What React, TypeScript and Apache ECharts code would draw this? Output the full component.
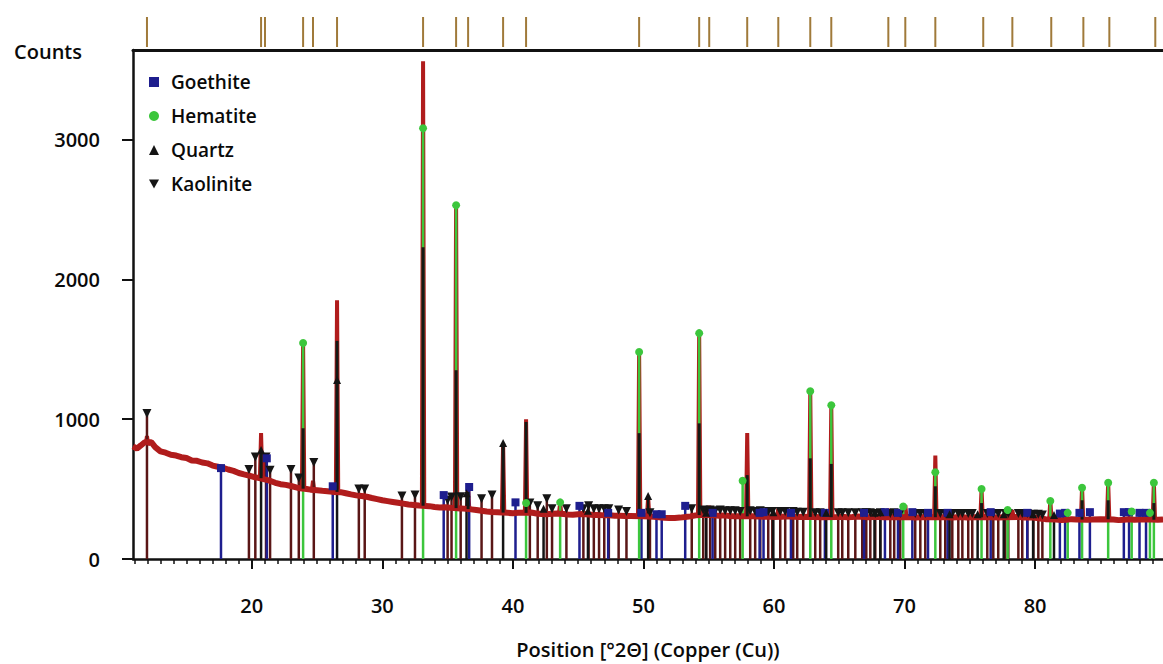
import React, { useEffect, useRef } from "react";
import * as echarts from "echarts";

const FONT = "'Open Sans', 'Noto Sans', sans-serif";

// ---- axes ----
const X_MIN = 10.9;
const X_MAX = 89.8;
const Y_MAX = 3640;
const xMajorTicks = [20, 30, 40, 50, 60, 70, 80];
const xMinorTicks = [
  11, 12, 13, 14, 15, 16, 17, 18, 19, 21, 22, 23, 24, 25, 26, 27, 28, 29, 31, 32, 33, 34, 35, 36, 37, 38, 39,
  41, 42, 43, 44, 45, 46, 47, 48, 49, 51, 52, 53, 54, 55, 56, 57, 58, 59, 61, 62, 63, 64, 65, 66, 67, 68, 69,
  71, 72, 73, 74, 75, 76, 77, 78, 79, 81, 82, 83, 84, 85, 86, 87, 88, 89,
];
const yTicks = [0, 1000, 2000, 3000];

// ---- observed scan: background (2θ, counts) ----
const background: [number, number][] = [
  [10.9, 805], [11.2, 790], [11.5, 812], [11.8, 835], [12.3, 835], [12.6, 800], [13.0, 770], [13.4, 760],
  [13.8, 745], [14.2, 740], [14.6, 728], [15.0, 722], [15.4, 705], [15.8, 702], [16.2, 690], [16.6, 684],
  [17.0, 668], [17.4, 660], [17.8, 652], [18.2, 640], [18.6, 630], [19.0, 615], [19.4, 605], [19.8, 596],
  [20.2, 585], [20.5, 580], [21.3, 562], [21.8, 545], [22.2, 535], [22.6, 530], [23.0, 522], [23.4, 512],
  [23.7, 505], [24.2, 500], [24.5, 496], [25.0, 492], [25.4, 488], [25.8, 485], [26.2, 480], [26.8, 478],
  [27.2, 470], [27.6, 462], [28.0, 455], [28.4, 450], [28.8, 445], [29.2, 436], [29.6, 428], [30.0, 420],
  [30.4, 414], [30.8, 408], [31.2, 402], [31.6, 396], [32.0, 390], [32.4, 386], [32.8, 382], [33.6, 378],
  [34.0, 372], [34.4, 368], [34.8, 370], [35.2, 366], [36.0, 362], [36.8, 355], [37.2, 350], [37.6, 345],
  [38.0, 340], [38.4, 336], [38.8, 334], [39.6, 330], [40.0, 328], [40.4, 330], [41.4, 332], [41.8, 326],
  [42.2, 322], [42.6, 320], [43.0, 324], [43.4, 326], [43.9, 322], [44.2, 318], [44.6, 316], [45.0, 320],
  [45.4, 322], [45.8, 318], [46.2, 315], [46.6, 314], [47.0, 312], [47.4, 313], [47.8, 310], [48.2, 310],
  [48.6, 308], [49.0, 308], [50.0, 306], [50.8, 302], [51.2, 298], [51.6, 295], [52.0, 294], [52.4, 293],
  [52.8, 296], [53.2, 300], [53.6, 305], [54.0, 312], [54.6, 316], [55.4, 312], [55.8, 310], [56.2, 312],
  [56.6, 308], [57.0, 306], [57.4, 305], [58.4, 306], [58.8, 304], [59.2, 302], [59.6, 304], [60.0, 300],
  [60.6, 302], [61.0, 305], [61.4, 303], [61.8, 300], [62.2, 302], [63.2, 300], [63.6, 298], [64.8, 300],
  [65.2, 302], [65.6, 298], [66.0, 300], [66.4, 304], [66.8, 302], [67.2, 298], [67.6, 300], [68.0, 302],
  [68.4, 298], [69.2, 300], [69.6, 298], [70.4, 300], [70.8, 296], [71.2, 298], [71.6, 300], [72.8, 298],
  [73.2, 300], [73.6, 296], [74.0, 298], [74.4, 300], [74.8, 296], [75.2, 298], [76.4, 300], [76.8, 298],
  [77.2, 296], [77.6, 298], [78.8, 300], [79.2, 296], [79.6, 298], [80.0, 295], [80.4, 290], [80.8, 285],
  [81.6, 282], [82.0, 278], [82.4, 280], [82.8, 285], [83.2, 282], [84.0, 280], [84.4, 283], [85.0, 285],
  [86.0, 282], [86.4, 278], [86.8, 280], [87.2, 284], [87.6, 280], [88.0, 282], [88.4, 285], [89.4, 280],
  [89.8, 282],
];

// ---- observed scan peaks: [2θ, top counts, base counts] ----
const scanPeaks: [number, number, number][] = [
  [11.97, 880, 820], [20.71, 900, 578], [21.01, 740, 570], [23.93, 1545, 503], [24.69, 560, 495],
  [26.53, 1850, 480], [33.12, 3560, 380], [35.65, 2530, 364], [36.57, 520, 357], [39.25, 830, 332],
  [41.01, 1000, 330], [43.62, 400, 325], [49.67, 1480, 307], [50.36, 440, 305], [54.27, 1620, 314],
  [55.04, 380, 314], [57.95, 900, 305], [60.33, 360, 302], [62.78, 1200, 301], [64.39, 1100, 299],
  [68.76, 360, 300], [70.06, 385, 300], [72.36, 740, 299], [75.9, 500, 298], [78.26, 350, 298],
  [81.17, 420, 284], [83.6, 515, 282], [85.6, 550, 284], [89.1, 550, 281],
];

// ---- dark profile segments: [2θ, base, top] ----
const profilePeaks: [number, number, number][] = [
  [20.71, 578, 780], [23.93, 503, 935], [26.53, 480, 1560], [33.12, 380, 2230], [35.65, 364, 1350],
  [36.57, 357, 480], [39.25, 332, 800], [41.01, 330, 980], [49.67, 307, 900], [54.27, 314, 970],
  [57.95, 305, 600], [62.78, 301, 720], [64.39, 299, 680], [72.36, 299, 520], [75.9, 298, 400],
  [83.6, 282, 420], [85.6, 284, 420], [89.1, 281, 400],
];

// ---- peak list (ticks above the plot), 2θ ----
const peakList = [
  11.97, 20.71, 21.01, 23.93, 24.69, 26.53, 33.12, 35.65, 36.57, 39.25, 41.01, 49.67, 54.27, 55.04,
  57.95, 60.33, 62.78, 64.39, 68.76, 70.06, 72.36, 76.03, 78.26, 81.24, 83.7, 85.69, 89.21,
];

// ---- reference phase sticks: [2θ, counts] ----
const goethite: [number, number][] = [
  [17.64, 650], [21.15, 720], [26.2, 520], [34.7, 457], [36.65, 515], [40.2, 405], [45.1, 380],
  [47.3, 330], [49.85, 330], [51.0, 320], [51.4, 320], [53.2, 380], [55.3, 330], [58.9, 330],
  [59.2, 335], [61.3, 330], [63.9, 330], [66.9, 330], [68.5, 335], [69.5, 330], [70.6, 335],
  [71.8, 330], [73.3, 330], [76.6, 335], [79.4, 330], [81.9, 325], [82.3, 330], [83.4, 330],
  [84.2, 335], [86.8, 335], [87.2, 335], [88.0, 330], [88.5, 330],
];
const hematite: [number, number][] = [
  [23.93, 1545], [33.12, 3080], [35.65, 2530], [41.01, 400], [43.62, 405], [49.67, 1480],
  [54.27, 1615], [57.6, 560], [62.78, 1200], [64.39, 1100], [69.9, 375], [72.36, 620], [75.9, 500],
  [77.9, 350], [81.17, 415], [82.5, 330], [83.6, 510], [85.6, 545], [87.4, 340], [88.8, 330],
  [89.1, 545],
];
const quartz: [number, number][] = [
  [20.71, 780], [26.53, 1280], [36.45, 470], [39.25, 830], [42.35, 360], [45.75, 345], [50.36, 450],
  [54.8, 330], [59.95, 335], [64.0, 330], [67.7, 330], [68.15, 335], [73.45, 320], [75.6, 320],
  [77.6, 320], [79.85, 320], [81.45, 315],
];
const kaolinite: [number, number][] = [
  [11.97, 1040], [19.78, 640], [20.27, 730], [21.09, 730], [21.4, 635], [23.0, 640], [23.6, 580],
  [24.75, 690], [28.2, 500], [28.65, 500], [31.5, 450], [32.5, 457], [35.0, 420], [35.3, 443],
  [36.0, 445], [37.6, 430], [38.4, 457], [41.3, 400], [41.9, 380], [42.6, 430], [43.0, 360],
  [44.1, 360], [45.4, 360], [45.8, 380], [46.2, 360], [46.6, 360], [47.0, 360], [47.35, 360],
  [48.1, 350], [48.7, 340], [50.5, 330], [53.7, 360],
  [54.58, 350], [54.81, 345], [55.11, 350], [55.5, 345], [55.88, 350], [56.26, 345], [56.65, 345],
  [57.03, 345], [57.41, 340], [58.18, 345], [58.56, 340], [58.95, 345], [59.56, 340], [59.87, 340],
  [60.48, 340], [60.86, 340], [61.47, 340], [61.78, 335], [62.24, 335], [63.16, 330], [63.54, 330],
  [64.92, 330], [65.23, 330], [65.69, 330], [66.23, 330], [66.76, 330], [67.07, 330], [67.38, 330],
  [67.76, 325], [68.14, 330], [68.91, 325], [69.21, 330], [69.67, 325], [70.82, 325], [71.21, 325],
  [71.59, 325], [72.74, 325], [73.12, 325], [73.66, 325], [74.12, 325], [74.43, 325], [74.88, 325],
  [75.19, 325], [76.34, 325], [76.8, 325], [77.18, 325], [77.72, 325], [77.95, 325], [78.72, 325],
  [79.02, 325], [79.41, 325], [79.87, 320], [80.25, 320], [80.56, 315],
];

const COL_GOE = "#1e1e8e";
const COL_HEM = "#3cc63c";
const COL_QTZ = "#141414";
const COL_KAO_STICK = "#5a1616";
const COL_KAO_MARK = "#151515";
const COL_SCAN = "#b01c1c";
const COL_PEAKLIST = "#a07a3a";

const INV_TRIANGLE = "path://M0,0 L10,0 L5,9 Z";

function buildScan(): [number, number][] {
  const pts: [number, number][] = background.filter(
    ([x]) => !scanPeaks.some(([p]) => Math.abs(p - x) < 0.12)
  );
  scanPeaks.forEach(([p, top, base]) => {
    pts.push([p - 0.09, base], [p, top], [p + 0.09, base]);
  });
  return pts.sort((a, b) => a[0] - b[0]);
}

function stickSeries(name: string, data: [number, number][], color: string, width: number, z: number) {
  return {
    type: "custom",
    name,
    xAxisIndex: 0,
    yAxisIndex: 0,
    z,
    silent: true,
    data,
    encode: { x: 0, y: 1 },
    renderItem: (_p: any, api: any) => {
      const x = api.value(0);
      const h = api.value(1);
      const a = api.coord([x, 0]);
      const b = api.coord([x, h]);
      return {
        type: "line",
        shape: { x1: a[0], y1: a[1], x2: b[0], y2: b[1] },
        style: { stroke: color, lineWidth: width },
      };
    },
  };
}

function markerSeries(name: string, data: [number, number][], symbol: string, color: string, size: number) {
  return {
    type: "scatter",
    name,
    xAxisIndex: 0,
    yAxisIndex: 0,
    z: 10,
    silent: true,
    symbol,
    symbolSize: size,
    itemStyle: { color, opacity: 1 },
    data,
  };
}

export default function App() {
  const ref = useRef<HTMLDivElement>(null);
  useEffect(() => {
    const chart = echarts.init(ref.current!, null, { renderer: "svg" });
    const scan = buildScan();
    const axisText = { fontFamily: FONT, fontSize: 20, color: "#0a0a0a", fontWeight: 600 };
    const option: any = {
      animation: false,
      backgroundColor: "#fff",
      textStyle: { fontFamily: FONT },
      grid: [
        { left: 133, right: 0, top: 50, bottom: 105, containLabel: false },
        { left: 133, right: 0, top: 17, height: 30, containLabel: false },
      ],
      legend: {
        data: [
          { name: "Goethite", icon: "rect" },
          { name: "Hematite", icon: "circle" },
          { name: "Quartz", icon: "triangle" },
          { name: "Kaolinite", icon: INV_TRIANGLE },
        ],
        orient: "vertical",
        left: 144,
        top: 66,
        itemWidth: 10,
        itemHeight: 10,
        itemGap: 12,
        selectedMode: false,
        textStyle: { ...axisText, fontSize: 19, lineHeight: 22, padding: [0, 0, 0, 7] },
      },
      xAxis: [
        {
          type: "value",
          gridIndex: 0,
          min: X_MIN,
          max: X_MAX,
          position: "bottom",
          name: "Position [°2Θ] (Copper (Cu))",
          nameLocation: "middle",
          nameGap: 80,
          nameTextStyle: axisText,
          axisLine: { show: true, lineStyle: { color: "#111", width: 2.5 } },
          axisTick: { show: true, length: 10, lineStyle: { color: "#111", width: 2 }, customValues: xMajorTicks },
          axisLabel: { show: true, margin: 36, ...axisText, customValues: xMajorTicks },
          splitLine: { show: false },
        },
        {
          type: "value",
          gridIndex: 0,
          min: X_MIN,
          max: X_MAX,
          position: "bottom",
          axisLine: { show: false },
          axisTick: { show: true, length: 5, lineStyle: { color: "#111", width: 1.5 }, customValues: xMinorTicks },
          axisLabel: { show: false },
          splitLine: { show: false },
        },
        {
          type: "value",
          gridIndex: 0,
          min: X_MIN,
          max: X_MAX,
          position: "top",
          axisLine: { show: true, lineStyle: { color: "#111", width: 3 } },
          axisTick: { show: false },
          axisLabel: { show: false },
          splitLine: { show: false },
        },
        {
          type: "value",
          gridIndex: 1,
          min: X_MIN,
          max: X_MAX,
          show: false,
        },
      ],
      yAxis: [
        {
          type: "value",
          gridIndex: 0,
          min: 0,
          max: Y_MAX,
          name: "Counts",
          nameLocation: "end",
          nameGap: -1,
          nameTextStyle: { ...axisText, align: "right", verticalAlign: "middle", padding: [0, 51, 0, 0] },
          axisLine: { show: true, lineStyle: { color: "#111", width: 2.5 } },
          axisTick: { show: true, length: 11, lineStyle: { color: "#111", width: 2 }, customValues: yTicks },
          axisLabel: {
            show: true,
            margin: 33,
            ...axisText,
            customValues: yTicks,
            formatter: (v: number) => String(v),
          },
          splitLine: { show: false },
        },
        { type: "value", gridIndex: 1, min: 0, max: 1, show: false },
      ],
      series: [
        {
          type: "line",
          name: "scan",
          xAxisIndex: 0,
          yAxisIndex: 0,
          z: 1,
          silent: true,
          data: scan,
          showSymbol: false,
          symbol: "none",
          lineStyle: { color: COL_SCAN, width: 4 },
        },
        stickSeries("kaoStick", kaolinite, COL_KAO_STICK, 2.5, 2),
        stickSeries("goeStick", goethite, COL_GOE, 2.5, 3),
        stickSeries("qtzStick", quartz, COL_QTZ, 2.5, 3),
        stickSeries("hemStick", hematite, COL_HEM, 2.5, 4),
        {
          type: "line",
          name: "scanBg",
          xAxisIndex: 0,
          yAxisIndex: 0,
          z: 5,
          silent: true,
          data: background,
          showSymbol: false,
          symbol: "none",
          lineStyle: { color: COL_SCAN, width: 6 },
        },
        {
          type: "custom",
          name: "profile",
          xAxisIndex: 0,
          yAxisIndex: 0,
          z: 6,
          silent: true,
          data: profilePeaks,
          encode: { x: 0, y: [1, 2] },
          renderItem: (_p: any, api: any) => {
            const x = api.value(0);
            const a = api.coord([x, api.value(1)]);
            const b = api.coord([x, api.value(2)]);
            return {
              type: "line",
              shape: { x1: a[0], y1: a[1], x2: b[0], y2: b[1] },
              style: { stroke: "#131a16", lineWidth: 3 },
            };
          },
        },
        markerSeries("Kaolinite", kaolinite, INV_TRIANGLE, COL_KAO_MARK, 9),
        markerSeries("Goethite", goethite, "rect", COL_GOE, 8),
        markerSeries("Quartz", quartz, "triangle", COL_QTZ, 8),
        markerSeries("Hematite", hematite, "circle", COL_HEM, 8),
        {
          type: "custom",
          name: "peakList",
          xAxisIndex: 3,
          yAxisIndex: 1,
          silent: true,
          data: peakList.map((p) => [p]),
          encode: { x: 0 },
          renderItem: (_p: any, api: any) => {
            const x = api.value(0);
            const a = api.coord([x, 0]);
            const b = api.coord([x, 1]);
            return {
              type: "line",
              shape: { x1: a[0], y1: a[1], x2: b[0], y2: b[1] },
              style: { stroke: COL_PEAKLIST, lineWidth: 2 },
            };
          },
        },
      ],
    };
    chart.setOption(option);
    return () => chart.dispose();
  }, []);
  return (
    <div
      ref={ref}
      style={{ position: "fixed", left: 0, top: 0, width: 1163, height: 664, background: "#fff" }}
    />
  );
}
